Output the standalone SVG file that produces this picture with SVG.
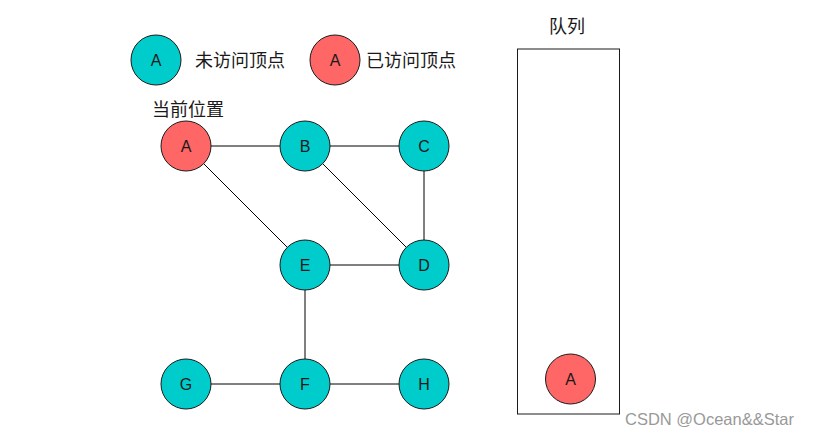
<svg xmlns="http://www.w3.org/2000/svg" width="831" height="436" viewBox="0 0 831 436">
<style>
.unv{fill:#00CCCC;stroke:#1a1a1a;stroke-width:1}
.vis{fill:#FF6666;stroke:#1a1a1a;stroke-width:1}
.lbl{font-family:"Liberation Sans",Arial,sans-serif;font-size:16px;fill:#1a1a1a;text-anchor:middle}
.cn{font-family:"Noto Sans CJK SC","Liberation Sans",sans-serif;font-size:18px;fill:#1a1a1a}
.edge{stroke:#000;stroke-width:1;fill:none}
</style>
<rect width="831" height="436" fill="#fff"/>
<g id="legend-unvisited">
<circle class="unv" cx="156" cy="60" r="25"/>
<text class="lbl" x="156" y="66">A</text>
<text class="cn" x="195" y="66.5">未访问顶点</text>
</g>
<g id="legend-visited">
<circle class="vis" cx="335" cy="60" r="25"/>
<text class="lbl" x="335" y="66">A</text>
<text class="cn" x="366" y="66.5">已访问顶点</text>
</g>
<g id="current-label">
<text class="cn" x="152" y="116">当前位置</text>
</g>
<g id="connectors">
<line class="edge" x1="211" y1="146" x2="280" y2="146"/>
<line class="edge" x1="330" y1="146" x2="399" y2="146"/>
<line class="edge" x1="424" y1="171" x2="424" y2="240"/>
<line class="edge" x1="322.7" y1="163.7" x2="406.3" y2="247.3"/>
<line class="edge" x1="203.7" y1="163.7" x2="287.3" y2="247.3"/>
<line class="edge" x1="330" y1="265" x2="399" y2="265"/>
<line class="edge" x1="305" y1="290" x2="305" y2="359"/>
<line class="edge" x1="211" y1="384" x2="280" y2="384"/>
<line class="edge" x1="330" y1="384" x2="399" y2="384"/>
</g>
<g id="node-A"><circle class="vis" cx="186" cy="146" r="25"/><text class="lbl" x="186" y="152">A</text></g>
<g id="node-B"><circle class="unv" cx="305" cy="146" r="25"/><text class="lbl" x="305" y="152">B</text></g>
<g id="node-C"><circle class="unv" cx="424" cy="146" r="25"/><text class="lbl" x="424" y="152">C</text></g>
<g id="node-E"><circle class="unv" cx="305" cy="265" r="25"/><text class="lbl" x="305" y="271">E</text></g>
<g id="node-D"><circle class="unv" cx="424" cy="265" r="25"/><text class="lbl" x="424" y="271">D</text></g>
<g id="node-G"><circle class="unv" cx="186" cy="384" r="25"/><text class="lbl" x="186" y="390">G</text></g>
<g id="node-F"><circle class="unv" cx="305" cy="384" r="25"/><text class="lbl" x="305" y="390">F</text></g>
<g id="node-H"><circle class="unv" cx="424" cy="384" r="25"/><text class="lbl" x="424" y="390">H</text></g>
<g id="queue">
<text class="cn" x="567" y="33" text-anchor="middle">队列</text>
<rect x="517.5" y="49" width="102" height="365" fill="none" stroke="#1a1a1a" stroke-width="1"/>
<circle class="vis" cx="570.5" cy="379" r="25"/>
<text class="lbl" x="570.5" y="385">A</text>
</g>
<text x="625" y="425" font-family="'Liberation Sans',Arial,sans-serif" font-size="16.5" fill="#999">CSDN @Ocean&amp;&amp;Star</text>
</svg>
